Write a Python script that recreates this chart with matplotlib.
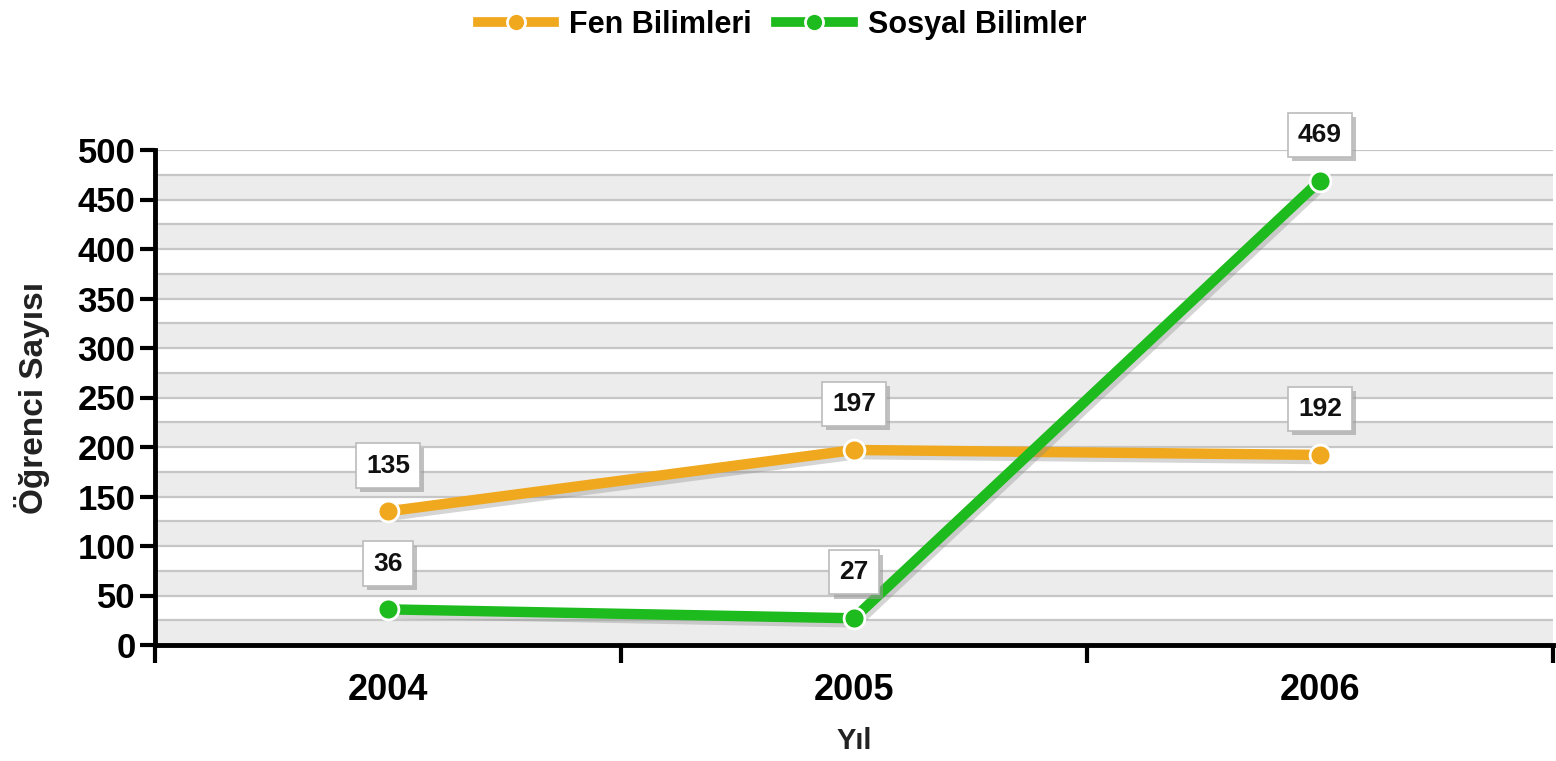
import matplotlib
matplotlib.use("Agg")
import matplotlib.pyplot as plt
import matplotlib.patheffects as pe
from matplotlib.lines import Line2D

years = ["2004", "2005", "2006"]
fen = [135, 197, 192]
sosyal = [36, 27, 469]
series_names = ["Fen Bilimleri", "Sosyal Bilimler"]
yticks = [0, 50, 100, 150, 200, 250, 300, 350, 400, 450, 500]

plt.rcParams['font.family'] = ['Liberation Sans', 'DejaVu Sans']
plt.rcParams['font.weight'] = 'bold'

ORANGE = "#F0A81E"
GREEN = "#1DBB1D"

fig = plt.figure(figsize=(15.56, 7.61), dpi=100)
ax = fig.add_axes([155/1556, 1-645/761, (1553-155)/1556, (645-150)/761])

x = list(range(len(years)))
ax.set_xlim(-0.5, len(years) - 0.5)
ax.set_ylim(0, 500)

# background bands
for lo in range(0, 500, 50):
    ax.axhspan(lo, lo + 25, color="#ECECEC", zorder=0, lw=0)
for g in range(25, 501, 25):
    ax.axhline(g, color="#C6C6C6", lw=1.6, zorder=1)

shadow = [pe.SimpleLineShadow(offset=(2, -3), shadow_color="#888888", alpha=0.35), pe.Normal()]
for vals, col, name in [(fen, ORANGE, series_names[0]), (sosyal, GREEN, series_names[1])]:
    ax.plot(x, vals, color=col, lw=7.5, solid_capstyle='butt', zorder=3,
            path_effects=shadow)
    ax.plot(x, vals, 'o', ms=15, color=col, mec="white", mew=2, zorder=4)
    for xi, v in zip(x, vals):
        ax.annotate(str(v), (xi, v), xytext=(0, 33), textcoords="offset points",
                    ha="center", va="center", fontsize=19, fontweight="bold",
                    color="#111111", zorder=6,
                    bbox=dict(boxstyle="square,pad=0.38", fc="white", ec="#BBBBBB", lw=1.2,
                              path_effects=[pe.withSimplePatchShadow(offset=(3, -3), shadow_rgbFace="#999999", alpha=0.6)]))

# spines
for s in ["top", "right"]:
    ax.spines[s].set_visible(False)
ax.spines["left"].set_linewidth(3.5)
ax.spines["bottom"].set_linewidth(3.5)
ax.spines["left"].set_zorder(5)
ax.spines["bottom"].set_zorder(5)

ax.set_yticks(yticks)
ax.set_yticklabels([str(t) for t in yticks], fontsize=25, fontweight="bold")
ax.tick_params(axis="y", direction="out", length=11, width=3, pad=3)

ax.set_xticks(x)
ax.set_xticklabels(years, fontsize=26, fontweight="bold")
ax.set_xticks([i - 0.5 for i in range(len(years) + 1)], minor=True)
ax.tick_params(axis="x", which="major", length=0, pad=20)
ax.tick_params(axis="x", which="minor", direction="out", length=13, width=3)

ax.set_xlabel("Yıl", fontsize=21, fontweight="bold", labelpad=14, color="#222222")
ax.set_ylabel("Öğrenci Sayısı", fontsize=24, fontweight="bold", labelpad=20, color="#222222")

handles = [Line2D([0], [0], color=ORANGE, lw=7, marker='o', ms=13, mec="white", mew=2),
           Line2D([0], [0], color=GREEN, lw=7, marker='o', ms=13, mec="white", mew=2)]
fig.legend(handles, series_names, loc="center", bbox_to_anchor=(782/1556, 1-25/761), ncol=2,
           frameon=False, prop=dict(size=22, weight="bold"), handlelength=2.5,
           columnspacing=0.8, handletextpad=0.5)

fig.savefig("out.png", dpi=100)
